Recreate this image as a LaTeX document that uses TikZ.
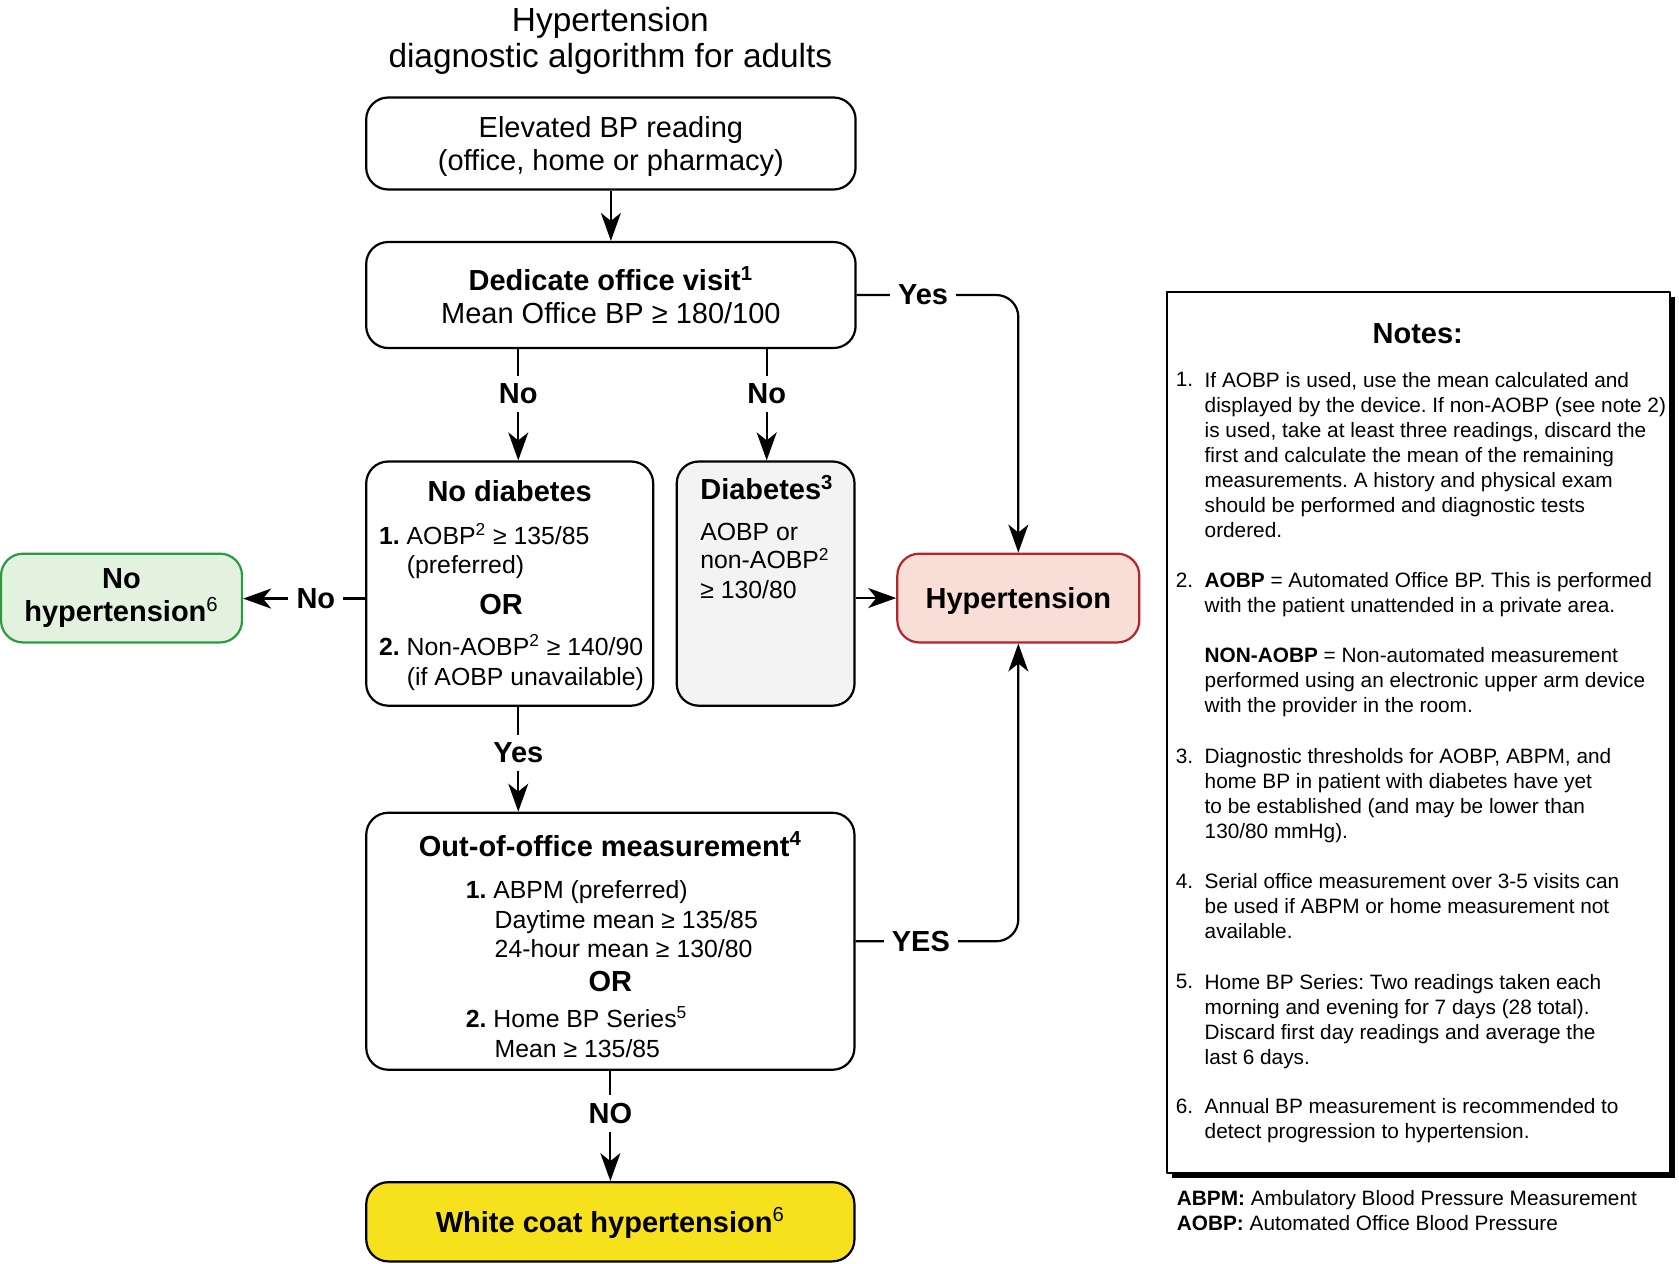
\documentclass[tikz,border=0pt]{standalone}
\usepackage{fontspec}
\setmainfont{Liberation Sans}
\usepackage{tikz}
\usetikzlibrary{arrows.meta}
\usetikzlibrary{positioning}
\usetikzlibrary{shadows}
\frenchspacing

\definecolor{diagray}{HTML}{F3F3F3}
\definecolor{hypfill}{HTML}{F9DED8}
\definecolor{hypdraw}{HTML}{B3262B}
\definecolor{okfill}{HTML}{E3F1DF}
\definecolor{okdraw}{HTML}{2B9B3F}
\definecolor{wcfill}{HTML}{F6E11C}

\tikzset{
  box/.style={draw, line width=1.1pt, rounded corners=11pt, inner sep=0pt},
  big/.style={font=\fontsize{14.5}{16.6}\selectfont, align=center},
  lbl/.style={font=\bfseries\fontsize{14.5}{16}\selectfont, inner sep=3.5pt},
  item/.style={font=\fontsize{12.4}{14.6}\selectfont, inner sep=0pt, anchor=west, text height=8.9pt, text depth=0pt},
  head/.style={font=\bfseries\fontsize{14.5}{16}\selectfont, inner sep=0pt, text height=10.4pt, text depth=0pt},
  note/.style={font=\fontsize{10.4}{12.5}\selectfont, inner sep=0pt, anchor=north west, align=left},
  arr/.style={-{Stealth[length=14pt,width=10pt,inset=4pt]}},
}

\begin{document}
\begin{tikzpicture}[x=0.5354pt,y=-0.5354pt,line width=1.1pt,line join=round]
\useasboundingbox (0,0) rectangle (1568,1179.5);
%%
\node (T) at (570,38) [align=center, font=\fontsize{16.7}{18.2}\selectfont] {Hypertension\\diagnostic algorithm for adults};

%% boxes
\node (elev) at (570.5,134) [box, big, minimum width=244.7pt, minimum height=46pt, text depth=0pt] {Elevated BP reading\\(office, home or pharmacy)};
\node (ded) at (570.5,275.5) [box, big, minimum width=244.7pt, minimum height=53pt] {\textbf{Dedicate office visit\textsuperscript{1}}\\Mean Office BP ≥ 180/100};
\node (nodia) at (476,545) [box, minimum width=143.5pt, minimum height=122.1pt] {};
\node (dia) at (715,545) [box, fill=diagray, minimum width=88.9pt, minimum height=122.1pt] {};
\node (hyp) at (951,558.5) [box, fill=hypfill, draw=hypdraw, minimum width=121pt, minimum height=44.4pt, font=\bfseries\fontsize{14.5}{16}\selectfont, text height=10.4pt, text depth=0pt] {Hypertension};
\node (nohyp) at (113.5,558.5) [box, big, fill=okfill, draw=okdraw, minimum width=120.5pt, minimum height=44.4pt] {\textbf{No}\\\textbf{hypertension}\textsuperscript{6}};
\node (out) at (570,879) [box, minimum width=244.1pt, minimum height=128.5pt] {};
\node (white) at (570,1141) [box, fill=wcfill, minimum width=244.1pt, minimum height=39.6pt, font=\bfseries\fontsize{14.5}{16}\selectfont, text height=10.4pt, text depth=0pt] {White coat hypertension\textsuperscript{\mdseries 6}};
\node (notes) at (1325,684) [draw, fill=white, line width=1pt, minimum width=251.6pt, minimum height=440.1pt, general shadow={fill=black, shadow xshift=2.5pt, shadow yshift=-2.5pt}] {};

%% no diabetes
\node (nd0) at (476,459) [head] {No diabetes};
\node (nd1) at (353,500) [item] {\textbf{1.} AOBP\textsuperscript{2} ≥ 135/85};
\node (nd2) at (379,527) [item] {(preferred)};
\node (nd3) at (468,564) [head] {OR};
\node (nd4) at (353,604) [item] {\textbf{2.} Non-AOBP\textsuperscript{2} ≥ 140/90};
\node (nd5) at (379,632) [item] {(if AOBP unavailable)};

%% diabetes
\node (di0) at (653,457) [head, anchor=west] {Diabetes\textsuperscript{3}};
\node (di1) at (653,496) [item] {AOBP or};
\node (di2) at (653,523) [item] {non-AOBP\textsuperscript{2}};
\node (di3) at (653,551) [item] {≥ 130/80};

%% out of office
\node (oo0) at (570,790) [head] {Out-of-office measurement\textsuperscript{4}};
\node (oo1) at (434,831) [item] {\textbf{1.} ABPM (preferred)};
\node (oo2) at (461,859) [item] {Daytime mean ≥ 135/85};
\node (oo3) at (461,886) [item] {24-hour mean ≥ 130/80};
\node (oo4) at (570,916) [head] {OR};
\node (oo5) at (434,951) [item] {\textbf{2.} Home BP Series\textsuperscript{5}};
\node (oo6) at (461,979) [item] {Mean ≥ 135/85};

%% labels
\node (noA) at (484,368) [lbl] {No};
\node (noB) at (716,368) [lbl] {No};
\node (yesA) at (862,275.5) [lbl] {Yes};
\node (noC) at (295,559) [lbl] {No};
\node (yesB) at (484,703) [lbl] {Yes};
\node (yesC) at (860,879) [lbl] {YES};
\node (noD) at (570,1040) [lbl] {NO};

%% connectors
\draw [arr] (elev) -- (ded);
\draw [arr] (ded.south -| noA) -- (noA) -- (noA |- nodia.north);
\draw [arr] (ded.south -| noB) -- (noB) -- (noB |- dia.north);
\draw [arr,rounded corners=11pt] (ded.east |- yesA) -- (yesA) -- (yesA -| hyp) -- (hyp);
\draw [arr] (nodia.west |- noC) -- (noC) -- (nohyp.east |- noC);
\draw [arr] (dia.east |- hyp) -- (hyp);
\draw [arr] (nodia.south -| yesB) -- (yesB) -- (yesB |- out.north);
\draw [arr,rounded corners=11pt] (out.east |- yesC) -- (yesC) -- (yesC -| hyp) -- (hyp);
\draw [arr] (out) -- (noD) -- (white);

%% notes
\node (nt) at (1324,311) [head] {Notes:};
\node (n1) at (1097,347) [note] {1.};
\node (t1) at (1124,347) [note] {If AOBP is used, use the mean calculated and\\displayed by the device. If non-AOBP (see note 2)\\is used, take at least three readings, discard the\\first and calculate the mean of the remaining\\measurements. A history and physical exam\\should be performed and diagnostic tests\\ordered.};
\node (n2) at (1097,534) [note] {2.};
\node (t2) at (1124,534) [note] {\textbf{AOBP} = Automated Office BP. This is performed\\with the patient unattended in a private area.};
\node (t2b) at (1124,604) [note] {\textbf{NON-AOBP} = Non-automated measurement\\performed using an electronic upper arm device\\with the provider in the room.};
\node (n3) at (1097,698) [note] {3.};
\node (t3) at (1124,698) [note] {Diagnostic thresholds for AOBP, ABPM, and\\home BP in patient with diabetes have yet\\to be established (and may be lower than\\130/80 mmHg).};
\node (n4) at (1097,815) [note] {4.};
\node (t4) at (1124,815) [note] {Serial office measurement over 3-5 visits can\\be used if ABPM or home measurement not\\available.};
\node (n5) at (1097,909) [note] {5.};
\node (t5) at (1124,909) [note] {Home BP Series: Two readings taken each\\morning and evening for 7 days (28 total).\\Discard first day readings and average the\\last 6 days.};
\node (n6) at (1097,1025) [note] {6.};
\node (t6) at (1124,1025) [note] {Annual BP measurement is recommended to\\detect progression to hypertension.};
\node (abbr) at (1098,1111) [note] {\textbf{ABPM:} Ambulatory Blood Pressure Measurement\\\textbf{AOBP:} Automated Office Blood Pressure};
%
\end{tikzpicture}
\end{document}
